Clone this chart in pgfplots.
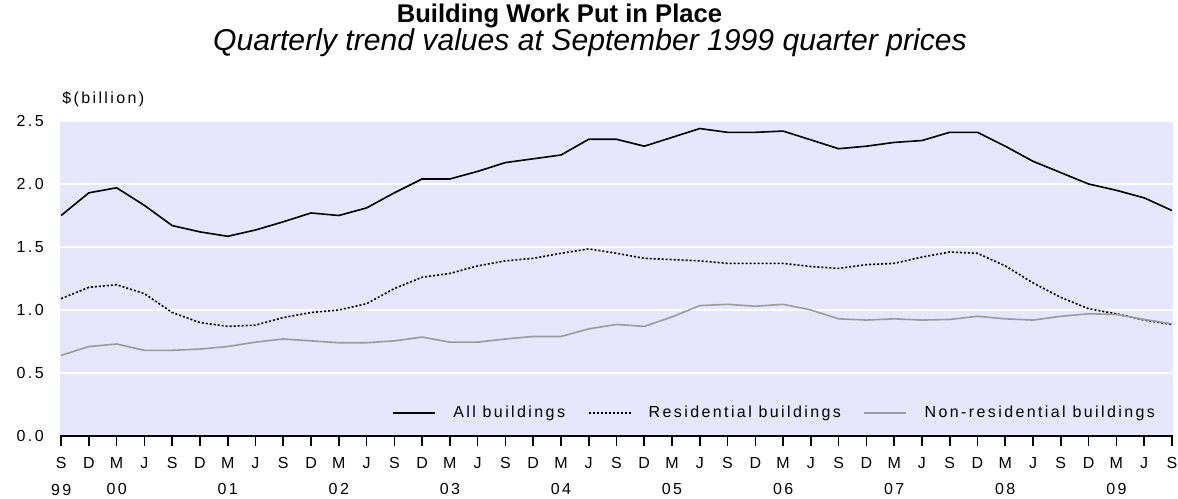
\documentclass[border=0pt]{standalone}
\usepackage{pgfplots}
\pgfplotsset{compat=1.18}
\usepackage{fontspec}
\setmainfont{Liberation Sans}
\newfontfamily\lsfont[LetterSpace=15]{Liberation Sans}
\definecolor{bgcol}{RGB}{230,230,252}
\definecolor{nrgrey}{RGB}{155,155,155}
\pgfplotstableread{
i all res nonres
0 1.75 1.09 0.64
1 1.93 1.18 0.71
2 1.97 1.20 0.73
3 1.83 1.13 0.68
4 1.67 0.98 0.68
5 1.62 0.90 0.69
6 1.585 0.87 0.71
7 1.635 0.88 0.745
8 1.70 0.94 0.77
9 1.77 0.98 0.755
10 1.75 1.00 0.74
11 1.81 1.05 0.74
12 1.93 1.17 0.755
13 2.04 1.26 0.785
14 2.04 1.29 0.745
15 2.10 1.35 0.745
16 2.17 1.39 0.77
17 2.20 1.41 0.79
18 2.23 1.45 0.79
19 2.355 1.485 0.85
20 2.355 1.45 0.885
21 2.30 1.41 0.87
22 2.37 1.40 0.945
23 2.44 1.39 1.035
24 2.41 1.37 1.045
25 2.41 1.37 1.03
26 2.42 1.37 1.045
27 2.35 1.345 1.00
28 2.28 1.33 0.93
29 2.30 1.36 0.92
30 2.33 1.37 0.93
31 2.345 1.42 0.92
32 2.41 1.46 0.925
33 2.41 1.45 0.95
34 2.30 1.35 0.93
35 2.18 1.215 0.92
36 2.09 1.10 0.95
37 2.00 1.01 0.97
38 1.95 0.97 0.965
39 1.89 0.92 0.925
40 1.79 0.885 0.89
}\datatable
\begin{document}
\begin{tikzpicture}
\begin{axis}[
  at={(0,0)}, anchor=south west,
  scale only axis,
  width=834.75pt, height=236.25pt,
  xmin=-0.04, xmax=40.04,
  ymin=0, ymax=2.5,
  axis background/.style={fill=bgcol},
  axis x line*=bottom,
  axis y line*=left,
  x axis line style={black, line width=1.2pt},
  y axis line style={draw=none},
  xtick={0,...,40},
  xticklabels={{S\\99},D,{M\\00},J,S,D,{M\\01},J,S,D,{M\\02},J,S,D,{M\\03},J,S,D,{M\\04},J,S,D,{M\\05},J,S,D,{M\\06},J,S,D,{M\\07},J,S,D,{M\\08},J,S,D,{M\\09},J,S},
  ytick={0,0.5,1.0,1.5,2.0,2.5},
  yticklabels={0.0,0.5,1.0,1.5,2.0,2.5},
  tick align=outside,
  xtick style={black, line width=1.2pt},
  major tick length=7.5pt,
  ytick style={draw=none},
  ymajorgrids,
  major grid style={white, line width=1.1pt},
  xticklabel style={font=\fontsize{12}{20}\selectfont\lsfont, align=center, anchor=north, inner sep=0pt, yshift=-8.25pt},
  yticklabel style={font=\fontsize{12}{14}\selectfont\lsfont, anchor=east, inner sep=0pt, xshift=-4.5pt},
  legend columns=3,
  legend style={draw=none, fill=none, font=\fontsize{12}{14}\selectfont\lsfont,
    at={(0.9865,0.073)}, anchor=east, inner sep=0pt,
    /tikz/every even column/.append style={column sep=15pt}},
  legend image code/.code={\draw[#1] (0pt,0pt) -- (31.5pt,0pt); \path (42.5pt,0pt);},
  clip=false,
]
\addplot[black, line width=1.2pt] table[x=i, y=all] {\datatable};
\addlegendentry{All buildings}
\addplot[black, line width=1.2pt, dash pattern=on 1.5pt off 1.5pt] table[x=i, y=res] {\datatable};
\addlegendentry{Residential buildings}
\addplot[nrgrey, line width=1.2pt] table[x=i, y=nonres] {\datatable};
\addlegendentry{Non-residential buildings}
\end{axis}
\node[anchor=base, font=\fontsize{19.2}{22}\selectfont\bfseries] at (374.6pt,309.75pt) {Building Work Put in Place};
\node[anchor=base, font=\fontsize{22.6}{26}\selectfont\itshape] at (397.5pt,288.75pt) {Quarterly trend values at September 1999 quarter prices};
\node[anchor=west, inner sep=0pt, font=\fontsize{12}{14}\selectfont\lsfont] at (1.5pt,252.75pt) {\$(billion)};
\pgfresetboundingbox
\path (-45pt,-47.25pt) rectangle (838.5pt,327pt);
\end{tikzpicture}
\end{document}
